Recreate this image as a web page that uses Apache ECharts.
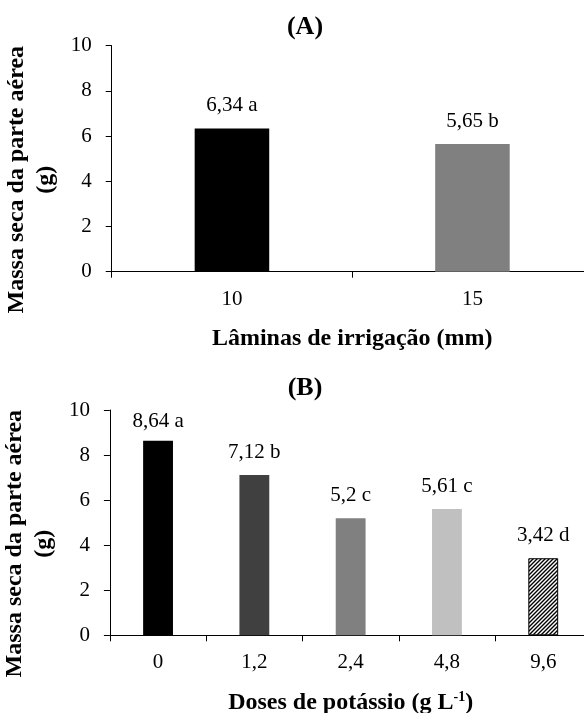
<!DOCTYPE html>
<html><head><meta charset="utf-8">
<script src="https://cdn.jsdelivr.net/npm/echarts@6/dist/echarts.min.js"></script>
<style>html,body{margin:0;padding:0;background:#fff}#c{width:584px;height:713px}</style>
</head><body><div id="c"></div>
<script>
// ---- data ----
const laminas = ['10', '15'];
const massaA = [6.34, 5.65];
const letrasA = ['a', 'b'];
const doses = ['0', '1,2', '2,4', '4,8', '9,6'];
const massaB = [8.64, 7.12, 5.2, 5.61, 3.42];
const letrasB = ['a', 'b', 'c', 'c', 'd'];
const yMin = 0, yMax = 10, yStep = 2;

// ---- styles ----
const FONT = '"Liberation Serif", "Times New Roman", serif';
function hatch() {
  const s = 4, c = document.createElement('canvas');
  c.width = s; c.height = s;
  const g = c.getContext('2d');
  g.fillStyle = '#fff'; g.fillRect(0, 0, s, s);
  g.strokeStyle = '#000'; g.lineWidth = 1.4;
  g.beginPath();
  g.moveTo(-1, s + 1); g.lineTo(s + 1, -1);
  g.moveTo(-1, 1); g.lineTo(1, -1);
  g.moveTo(s - 1, s + 1); g.lineTo(s + 1, s - 1);
  g.stroke();
  return c;
}
const colorsA = ['#000000', '#808080'];
const colorsB = ['#000000', '#404040', '#808080', '#c0c0c0', { image: hatch(), repeat: 'repeat' }];

const fmt = v => String(v).replace('.', ',');
function items(vals, colors) {
  return vals.map((v, i) => {
    const it = { value: v, itemStyle: { color: colors[i] } };
    if (typeof colors[i] === 'object') { it.itemStyle.borderColor = '#000'; it.itemStyle.borderWidth = 1; }
    it.label = { distance: Math.min(12, (yMax - v) * 22.5 - 22) };
    return it;
  });
}

const baseX = (gi, cats, name, gap) => ({
  gridIndex: gi, type: 'category', data: cats,
  axisLine: { show: true, lineStyle: { color: '#000', width: 1 } },
  axisTick: { show: true, length: 6, lineStyle: { color: '#000', width: 1 } },
  axisLabel: { color: '#000', fontFamily: FONT, fontSize: 21, margin: 17 },
  splitLine: { show: false },
  name: name, nameLocation: 'middle', nameGap: gap,
  nameTextStyle: { color: '#000', fontFamily: FONT, fontWeight: 'bold', fontSize: 24,
    rich: { sup: { fontSize: 14, fontWeight: 'bold', fontFamily: FONT, color: '#000', verticalAlign: 'top', lineHeight: 14 } } }
});
const baseY = (gi) => ({
  gridIndex: gi, type: 'value', min: yMin, max: yMax, interval: yStep,
  axisLine: { show: true, lineStyle: { color: '#000', width: 1 } },
  axisTick: { show: true, length: 6, lineStyle: { color: '#000', width: 1 } },
  axisLabel: { color: '#000', fontFamily: FONT, fontSize: 21, margin: 20 },
  splitLine: { show: false },
  name: 'Massa seca da parte aérea\n(g)', nameLocation: 'middle', nameGap: 44,
  nameTextStyle: { color: '#000', fontFamily: FONT, fontWeight: 'bold', fontSize: 24, lineHeight: 29, padding: [0, 42, 0, 0] }
});
const labelCfg = letters => ({
  show: true, position: 'top', color: '#000', fontFamily: FONT, fontSize: 21,
  formatter: p => fmt(p.value) + ' ' + letters[p.dataIndex]
});

const chart = echarts.init(document.getElementById('c'), null, { renderer: 'canvas' });
chart.setOption({
  animation: false,
  backgroundColor: '#fff',
  title: [
    { text: '(A)', left: 305, top: 27, textAlign: 'center', textVerticalAlign: 'middle', padding: 0,
      textStyle: { fontFamily: FONT, fontWeight: 'bold', fontSize: 26, color: '#000' } },
    { text: '(B)', left: 305, top: 388, textAlign: 'center', textVerticalAlign: 'middle', padding: 0,
      textStyle: { fontFamily: FONT, fontWeight: 'bold', fontSize: 26, color: '#000' } }
  ],
  grid: [
    { left: 111.7, top: 45.7, width: 481, height: 226, outerBoundsMode: 'none', containLabel: false },
    { left: 109.9, top: 410, width: 481.5, height: 225.3, outerBoundsMode: 'none', containLabel: false }
  ],
  xAxis: [
    baseX(0, laminas, 'Lâminas de irrigação (mm)', 55),
    baseX(1, doses, 'Doses de potássio (g L{sup|-1})', 55)
  ],
  yAxis: [baseY(0), baseY(1)],
  series: [
    { type: 'bar', xAxisIndex: 0, yAxisIndex: 0, barWidth: '31%', data: items(massaA, colorsA), label: labelCfg(letrasA) },
    { type: 'bar', xAxisIndex: 1, yAxisIndex: 1, barWidth: '31%', data: items(massaB, colorsB), label: labelCfg(letrasB) }
  ]
});
</script></body></html>
